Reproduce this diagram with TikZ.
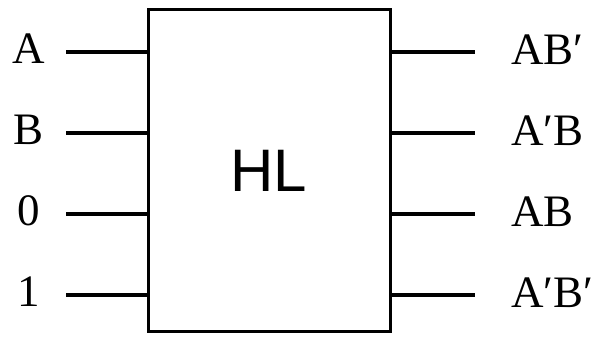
\documentclass[tikz,border=0pt]{standalone}
\usepackage{fontspec}
\setmainfont{Liberation Serif}
\newfontfamily\hlfont{Liberation Sans}
\begin{document}
\begin{tikzpicture}[x=1pt,y=-1pt,
  wire/.style={line width=4pt},
  lbl/.style={font=\fontsize{45}{47}\selectfont, inner sep=0pt},
  hlbox/.style={draw, line width=3pt, minimum width=242pt, minimum height=322pt, inner sep=0pt}]
\useasboundingbox (0,0) rectangle (598,339);
\node[hlbox] (box) at (269,171) {};
\node[font=\hlfont\fontsize{60}{62}\selectfont, inner sep=0pt] (hl) at (269,171) {HL};
\foreach \n/\y/\t in {a/52/A, b/133/B, z/214/0, o/295/1} {
  \coordinate (l\n) at (66,\y);
  \coordinate (r\n) at (148,\y);
  \draw[wire] (l\n) -- (r\n);
  \node[lbl, anchor=center] (t\n) at (29,\y-3) {\t};
}
\foreach \n/\y/\t in {a/52/AB′, b/133/A′B, z/214/AB, o/295/A′B′} {
  \coordinate (p\n) at (390,\y);
  \coordinate (q\n) at (475,\y);
  \draw[wire] (p\n) -- (q\n);
  \node[lbl, anchor=west] (u\n) at (511,\y-2) {\t};
}
\end{tikzpicture}
\end{document}
